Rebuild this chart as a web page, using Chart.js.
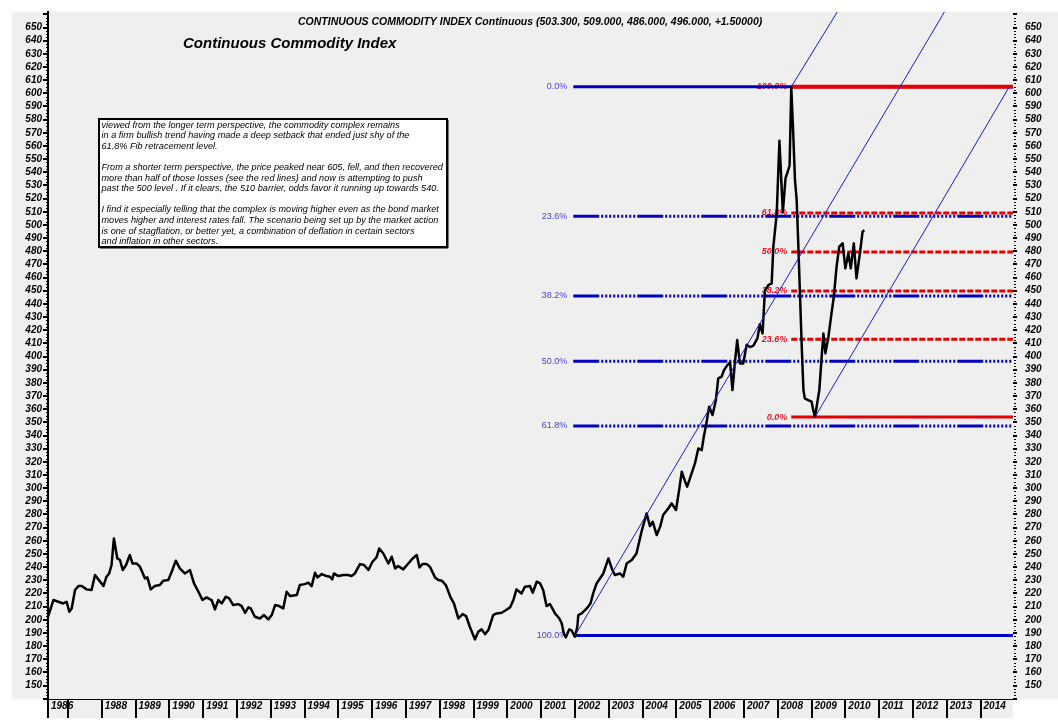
<!DOCTYPE html>
<html><head><meta charset="utf-8">
<script src="https://cdn.jsdelivr.net/npm/chart.js@4.4.1/dist/chart.umd.min.js"></script>
<style>html,body{margin:0;padding:0;background:#fff;}canvas{display:block;}</style>
</head><body>
<canvas id="c" width="1058" height="720"></canvas>
<script>
// ---------------- DATA ----------------
const dates = [1986.41,1986.57,1986.86,1986.96,1987.04,1987.11,1987.21,1987.31,1987.41,1987.55,1987.70,1987.80,1987.90,
1988.05,1988.14,1988.22,1988.29,1988.36,1988.46,1988.54,1988.62,1988.72,1988.83,1988.91,1989.03,1989.13,1989.28,1989.35,
1989.45,1989.57,1989.72,1989.82,1989.97,1990.07,1990.19,1990.31,1990.46,1990.61,1990.73,1990.86,1990.98,1991.10,1991.25,
1991.35,1991.45,1991.55,1991.67,1991.77,1991.89,1992.04,1992.14,1992.24,1992.34,1992.41,1992.53,1992.68,1992.80,1992.93,
1993.03,1993.13,1993.25,1993.37,1993.47,1993.57,1993.77,1993.86,1994.01,1994.11,1994.21,1994.31,1994.38,1994.51,1994.65,
1994.75,1994.82,1994.87,1995.00,1995.15,1995.29,1995.39,1995.49,1995.64,1995.76,1995.89,1996.01,1996.13,1996.21,1996.33,
1996.48,1996.58,1996.68,1996.77,1996.92,1997.07,1997.20,1997.32,1997.40,1997.49,1997.61,1997.71,1997.86,1997.96,1998.06,
1998.18,1998.32,1998.42,1998.55,1998.68,1998.78,1998.89,1999.04,1999.14,1999.24,1999.34,1999.44,1999.58,1999.68,1999.83,
1999.93,2000.08,2000.18,2000.27,2000.42,2000.52,2000.67,2000.75,2000.87,2000.97,2001.06,2001.16,2001.26,2001.41,2001.54,
2001.61,2001.67,2001.73,2001.83,2001.90,2002.00,2002.07,2002.10,2002.20,2002.35,2002.46,2002.54,2002.64,2002.74,2002.84,
2002.99,2003.09,2003.18,2003.33,2003.43,2003.53,2003.68,2003.82,2003.97,2004.12,2004.22,2004.30,2004.42,2004.52,2004.61,
2004.76,2004.86,2004.99,2005.09,2005.16,2005.26,2005.32,2005.42,2005.55,2005.65,2005.75,2005.82,2005.88,2005.97,2006.07,
2006.17,2006.24,2006.34,2006.41,2006.51,2006.59,2006.66,2006.73,2006.80,2006.88,2006.98,2007.08,2007.18,2007.28,2007.40,
2007.47,2007.55,2007.62,2007.72,2007.82,2007.87,2007.97,2008.05,2008.15,2008.23,2008.30,2008.35,2008.40,2008.45,2008.51,
2008.56,2008.61,2008.66,2008.71,2008.76,2008.80,2008.90,2009.00,2009.05,2009.10,2009.15,2009.23,2009.30,2009.35,2009.41,
2009.50,2009.59,2009.66,2009.74,2009.82,2009.92,2010.00,2010.09,2010.16,2010.25,2010.33,2010.43,2010.51,2010.56];
const cci = [202.3,215.0,212.4,213.7,206.1,208.6,222.6,225.6,225.6,223.1,222.6,234.0,230.7,
225.6,232.7,235.2,241.6,261.8,246.6,245.4,237.8,241.6,249.2,242.8,242.8,240.3,231.4,232.2,
223.1,225.6,226.4,229.7,230.2,236.5,244.9,239.0,235.2,237.8,227.6,221.3,215.0,217.0,215.0,
207.9,215.0,212.4,217.5,216.2,211.2,211.9,210.4,205.3,209.4,208.6,202.3,201.0,203.6,200.3,
203.6,211.2,210.4,208.6,221.3,218.0,218.8,226.4,227.1,228.2,225.6,235.7,232.2,234.7,233.2,
232.7,230.7,235.2,233.2,234.0,234.0,233.2,235.2,242.3,241.6,237.8,244.1,247.4,254.2,250.4,
242.8,247.9,239.0,240.8,238.3,242.8,246.6,249.2,239.8,242.3,242.3,240.3,232.2,230.2,229.7,
226.4,217.0,212.4,201.0,204.3,202.8,194.7,185.1,190.9,192.7,189.1,192.2,203.6,204.8,205.3,
206.9,209.4,215.0,223.1,220.0,225.1,225.6,220.5,228.9,227.6,222.6,210.4,212.0,204.8,201.0,
197.2,189.6,186.6,192.7,192.0,187.1,194.7,203.6,204.8,208.6,212.4,220.0,227.6,231.4,235.2,
246.6,239.0,234.0,235.2,232.7,242.8,245.4,250.4,267.0,280.8,271.2,274.5,264.4,270.7,279.6,
284.6,288.4,283.4,299.8,312.5,304.9,301.1,308.7,318.8,330.2,328.9,340.3,347.9,361.9,355.6,
367.0,383.4,384.7,389.7,393.5,395.5,374.5,394.8,412.5,394.8,394.8,409.0,407.2,408.3,414.0,
424.5,417.6,450.0,454.3,455.6,483.5,508.8,564.0,509.6,535.6,540.8,545.0,604.5,574.6,534.0,
518.9,483.5,445.5,407.5,374.5,368.2,366.9,365.7,359.4,354.3,361.9,374.5,399.9,417.6,402.4,
415.1,432.8,445.5,468.3,483.5,486.0,467.0,478.4,467.0,486.0,459.4,478.4,494.9,496.1];

const yearTicks = [1987,1988,1989,1990,1991,1992,1993,1994,1995,1996,1997,1998,1999,2000,
                   2001,2002,2003,2004,2005,2006,2007,2008,2009,2010,2011,2012,2013,2014];
const priceTicks = [150,160,170,180,190,200,210,220,230,240,250,260,270,280,290,300,310,320,330,340,350,
                    360,370,380,390,400,410,420,430,440,450,460,470,480,490,500,510,520,530,540,550,560,
                    570,580,590,600,610,620,630,640,650];

const blueFibLabels = ['0.0%','23.6%','38.2%','50.0%','61.8%','100.0%'];
const blueFibLevels = [605.0, 506.6, 446.0, 396.5, 347.3, 188.0];
const blueFibStart = 2001.95;
const redFibLabels = ['100.0%','61.8%','50.0%','38.2%','23.6%','0.0%'];
const redFibLevels = [605.0, 509.1, 479.5, 449.9, 413.2, 354.0];
const redFibStart = 2008.40;

const channelFrom = [[2002.00,188.0],[2008.40,605.0],[2009.10,354.0]];
const channelTo   = [[2012.93,661.8],[2009.76,661.8],[2014.85,605.0]];

const titleText = 'CONTINUOUS COMMODITY INDEX Continuous (503.300, 509.000, 486.000, 496.000, +1.50000)';
const subTitle = 'Continuous Commodity Index';
const noteLines = [
 'viewed from the longer term perspective, the commodity complex remains',
 'in a firm bullish trend having made a deep setback that ended just shy of the',
 '61.8% Fib retracement level.',
 '',
 'From a shorter term perspective, the price peaked near 605, fell, and then recovered',
 'more than half of those losses (see the red lines) and now is attempting to push',
 'past the 500 level . If it clears, the 510 barrier, odds favor it running up towards 540.',
 '',
 'I find it especially telling that the complex is moving higher even as the bond market',
 'moves higher and interest rates fall. The scenario being set up by the market action',
 'is one of stagflation, or better yet, a combination of deflation in certain sectors',
 'and inflation in other sectors.'
];

const xMin = 1986.41, xMax = 2014.96, yMin = 139.8, yMax = 661.8;

// ---------------- CHART ----------------
const FONT = "'Liberation Sans', Arial, sans-serif";
const axisFont = {family: FONT, size: 10, style: 'italic', weight: 'bold'};

const datasets = [];
blueFibLevels.forEach((lv, i) => {
  const solid = (i === 0 || i === blueFibLevels.length - 1);
  datasets.push({
    data: [{x: blueFibStart, y: lv}, {x: xMax, y: lv}],
    borderColor: '#0000c0', borderWidth: 3,
    borderDash: solid ? [] : [26,2,2,2,2,2,2,2,2,2,2,2,2,2,2,2,2,2,2,2],
    pointRadius: 0, order: 3, clip: 0
  });
});
redFibLevels.forEach((lv, i) => {
  const solid = (i === 0 || i === redFibLevels.length - 1);
  datasets.push({
    data: [{x: redFibStart, y: lv}, {x: xMax, y: lv}],
    borderColor: '#e50000', borderWidth: i === 0 ? 4 : 3,
    borderDash: solid ? [] : [6, 2],
    pointRadius: 0, order: 2, clip: 0
  });
});
datasets.push({
  data: dates.map((d, i) => ({x: d, y: cci[i]})),
  borderColor: '#000', borderWidth: 2.5, pointRadius: 0, tension: 0, order: 1,
  borderJoinStyle: 'round'
});
channelFrom.forEach((p, i) => {
  datasets.push({
    data: [{x: p[0], y: p[1]}, {x: channelTo[i][0], y: channelTo[i][1]}],
    borderColor: '#1a1ae0', borderWidth: 1, pointRadius: 0, order: 0, clip: 0
  });
});

const bgPlugin = {
  id: 'bg',
  beforeDraw(chart) {
    const c = chart.ctx, a = chart.chartArea;
    c.save();
    c.fillStyle = '#ffffff'; c.fillRect(0, 0, chart.width, chart.height);
    c.fillStyle = '#efefef';
    c.fillRect(12, 12, chart.width - 12, a.bottom - 12);
    c.fillRect(a.left, a.bottom, a.right - a.left, 19);
    c.restore();
  }
};

const labelPlugin = {
  id: 'fibLabels',
  beforeDatasetsDraw(chart) {
    const c = chart.ctx, xs = chart.scales.x, ys = chart.scales.y;
    c.save();
    c.textBaseline = 'middle';
    c.textAlign = 'right';
    c.font = `9px ${FONT}`;
    c.fillStyle = '#4646d8';
    const bx = xs.getPixelForValue(blueFibStart) - 6;
    blueFibLevels.forEach((lv, i) => c.fillText(blueFibLabels[i], bx, ys.getPixelForValue(lv)));
    c.font = `italic bold 9px ${FONT}`;
    c.fillStyle = '#e8141e';
    const rx = xs.getPixelForValue(redFibStart) - 4;
    redFibLevels.forEach((lv, i) => c.fillText(redFibLabels[i], rx, ys.getPixelForValue(lv)));
    c.restore();
  }
};

const axisTickPlugin = {
  id: 'axisTicks',
  afterDraw(chart) {
    const c = chart.ctx, ys = chart.scales.y, a = chart.chartArea;
    c.save();
    c.fillStyle = '#000';
    for (let k = Math.ceil(ys.min / 2.5); k * 2.5 <= ys.max; k++) {
      const v = k * 2.5;
      const p = Math.round(ys.getPixelForValue(v));
      const major = (k % 4 === 0);
      if (major) { c.fillRect(a.left - 5, p - 1, 5, 2); c.fillRect(a.right, p - 1, 4, 2); }
      else { c.fillRect(a.left - 2, p, 2, 1); c.fillRect(a.right + 1, p, 2, 1); }
    }
    // titles
    c.fillStyle = '#000';
    c.textBaseline = 'alphabetic';
    c.textAlign = 'left';
    c.font = `italic bold 10.5px ${FONT}`;
    c.fillText(titleText, 298, 25);
    c.font = `italic bold 15px ${FONT}`;
    c.fillText(subTitle, 183, 48);
    // note box
    const bx = 99, by = 119, bw = 348, bh = 128;
    c.fillStyle = '#ffffff';
    c.fillRect(bx, by, bw, bh);
    c.strokeStyle = '#000';
    c.lineWidth = 2;
    c.strokeRect(bx, by, bw, bh);
    c.fillStyle = '#000';
    c.fillRect(bx + 1, by + bh, bw, 1.5);
    c.fillRect(bx + bw, by + 1, 1.5, bh);
    c.font = `italic 9.15px ${FONT}`;
    c.textBaseline = 'middle';
    noteLines.forEach((t, i) => { if (t) c.fillText(t, 101.5, 125 + i * 10.6); });
    c.restore();
  }
};

const noEdgePad = s => { s.paddingTop = 0; s.paddingBottom = 0; };

new Chart(document.getElementById('c'), {
  type: 'line',
  data: {datasets},
  plugins: [bgPlugin, labelPlugin, axisTickPlugin],
  options: {
    responsive: false,
    animation: false,
    events: [],
    layout: {padding: {top: 12, left: 0, right: 0, bottom: 0}},
    plugins: {legend: {display: false}, tooltip: {enabled: false}, title: {display: false}},
    scales: {
      x: {
        type: 'linear', position: 'bottom', min: xMin, max: xMax,
        afterBuildTicks: s => { s.ticks = [{value: xMin}].concat(yearTicks.map(v => ({value: v}))); },
        afterFit: s => { s.height = 21; s.paddingLeft = 0; s.paddingRight = 0; },
        grid: {display: true, drawOnChartArea: false, drawTicks: true, tickLength: 19, lineWidth: 2, color: '#000'},
        border: {display: true, color: '#000', width: 1},
        ticks: {
          autoSkip: false, maxRotation: 0, minRotation: 0, align: 'start', labelOffset: 3, padding: -18,
          color: '#000', font: axisFont,
          callback: (v, i, t) => (i > 0 && v - t[i - 1].value < 0.8) ? '' : String(Math.floor(v))
        }
      },
      y: {
        type: 'linear', position: 'left', min: yMin, max: yMax,
        afterBuildTicks: s => { s.ticks = priceTicks.map(v => ({value: v})); },
        afterFit: s => { s.width = 48; noEdgePad(s); },
        grid: {display: false, drawTicks: false},
        border: {display: true, color: '#000', width: 2},
        ticks: {autoSkip: false, padding: 6, color: '#000', font: axisFont, callback: v => String(v)}
      },
      y2: {
        type: 'linear', position: 'right', min: yMin, max: yMax,
        afterBuildTicks: s => { s.ticks = priceTicks.map(v => ({value: v})); },
        afterFit: s => { s.width = 45; noEdgePad(s); },
        grid: {display: false, drawTicks: false},
        border: {display: false},
        ticks: {autoSkip: false, padding: 12, color: '#000', font: axisFont, callback: v => String(v)}
      }
    }
  }
});
</script>
</body></html>
